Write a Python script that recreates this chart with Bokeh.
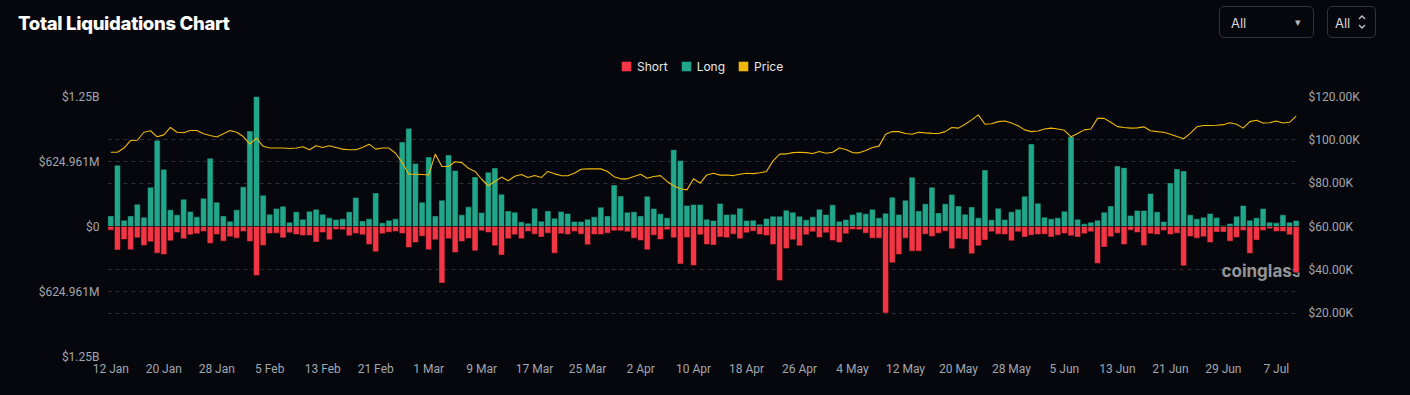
import pandas as pd
from bokeh.plotting import figure
from bokeh.layouts import column
from bokeh.models import (Range1d, LinearAxis, FixedTicker, CustomJSTickFormatter, Grid,
                          Legend, LegendItem, Label, Div, GlobalInlineStyleSheet)
from bokeh.embed import file_html
from bokeh.resources import INLINE

start_date = "2025-01-12"
chart_title = "Total Liquidations Chart"

long_liq = [102, 589, 61, 102, 214, 90, 378, 829, 550, 160, 112, 262, 144, 93, 272, 656, 234, 102, 51, 160,
            381, 918, 1249.9, 301, 118, 173, 195, 42, 141, 70, 147, 166, 118, 83, 67, 74, 141, 278, 54, 74,
            323, 35, 60, 74, 813, 944, 605, 234, 669, 102, 253, 688, 538, 112, 189, 477, 134, 522, 563, 310,
            150, 138, 45, 32, 176, 51, 150, 80, 144, 125, 48, 48, 70, 93, 186, 102, 400, 294, 138, 141,
            102, 291, 173, 122, 83, 739, 634, 202, 211, 211, 70, 58, 221, 115, 118, 176, 58, 61, 22, 77,
            99, 99, 157, 138, 99, 64, 93, 166, 115, 208, 51, 67, 115, 138, 122, 166, 83, 128, 282, 115,
            253, 474, 150, 218, 378, 131, 218, 307, 198, 118, 188, 83, 544, 64, 176, 67, 141, 166, 291, 794,
            224, 90, 74, 83, 147, 864, 70, 26, 42, 61, 138, 198, 582, 566, 106, 154, 154, 317, 141, 48,
            419, 554, 534, 112, 74, 90, 125, 86, 10, 29, 99, 202, 61, 83, 173, 42, 35, 112, 42, 58]

short_liq = [35, 227, 125, 224, 109, 182, 147, 256, 269, 138, 58, 118, 80, 70, 48, 163, 77, 141, 99, 112,
             48, 144, 470, 182, 67, 64, 109, 61, 77, 86, 86, 150, 58, 128, 29, 32, 90, 67, 80, 173,
             243, 70, 55, 48, 67, 202, 154, 93, 224, 128, 544, 118, 250, 144, 115, 234, 42, 58, 186, 275,
             118, 80, 118, 48, 74, 102, 64, 256, 70, 77, 48, 74, 176, 77, 77, 64, 42, 42, 51, 112,
             134, 224, 83, 125, 32, 109, 360, 106, 374, 80, 173, 179, 102, 109, 74, 118, 61, 45, 77, 86,
             173, 518, 211, 128, 186, 80, 51, 106, 61, 134, 154, 70, 29, 32, 64, 112, 112, 832, 349, 269,
             112, 237, 237, 74, 96, 64, 45, 214, 118, 125, 262, 186, 131, 51, 74, 77, 138, 51, 102, 83,
             77, 74, 102, 83, 67, 90, 102, 70, 51, 355, 198, 99, 64, 173, 35, 58, 182, 70, 77, 38,
             77, 64, 378, 96, 112, 99, 154, 54, 54, 141, 106, 38, 259, 131, 38, 22, 48, 48, 80, 442]

price_k = [94.3, 94.3, 96.2, 99.7, 99.8, 103.5, 104.2, 101.4, 102.3, 105.7, 103.5, 103.3, 104.3, 104.3, 102.8,
           102.0, 101.3, 102.8, 104.3, 103.5, 101.5, 98.0, 100.8, 97.0, 96.2, 96.2, 96.2, 96.0, 96.2, 96.8,
           95.4, 97.3, 96.5, 97.3, 96.5, 95.7, 95.4, 95.4, 96.5, 98.0, 95.7, 96.2, 96.2, 93.8, 89.5,
           84.1, 84.1, 84.0, 83.8, 93.4, 87.7, 87.7, 89.9, 89.5, 86.9, 85.4, 81.8, 78.8, 80.8, 82.8,
           81.1, 83.2, 84.0, 82.6, 83.5, 82.6, 85.4, 84.3, 83.5, 83.4, 84.6, 86.4, 86.6, 86.6, 86.6,
           85.4, 83.0, 82.0, 82.0, 83.1, 84.1, 82.3, 83.1, 83.5, 80.8, 78.8, 77.4, 76.9, 82.0, 80.0,
           83.8, 84.6, 83.7, 83.8, 83.5, 84.1, 84.6, 84.4, 84.8, 85.4, 90.3, 93.4, 93.5, 94.1, 94.3,
           94.1, 93.7, 94.6, 93.8, 94.3, 96.2, 95.5, 94.1, 94.0, 95.1, 96.5, 97.1, 102.6, 103.8, 103.8,
           102.9, 102.6, 103.5, 103.2, 103.0, 102.9, 103.8, 105.7, 105.4, 107.2, 109.2, 111.5, 107.2, 107.4, 108.4,
           108.7, 107.8, 106.5, 104.6, 103.8, 104.1, 105.0, 105.4, 105.0, 104.4, 101.4, 102.9, 104.6, 105.0, 109.9,
           109.9, 108.1, 106.1, 105.7, 105.4, 105.5, 106.0, 104.2, 103.8, 103.5, 102.6, 101.5, 100.5, 103.0, 106.0,
           106.6, 106.6, 106.7, 107.0, 107.9, 107.2, 105.4, 108.4, 109.0, 107.8, 107.9, 108.7, 107.8, 108.1, 110.9]

liq_ticks = [-1249.922, -624.961, 0, 624.961, 1249.922]
price_ticks = [20, 40, 60, 80, 100, 120]
price_grid = [0, 20, 40, 60, 80, 100, 120]
series_names = ["Short", "Long", "Price"]
selector_labels = ["All", "All"]

n = len(long_liq)
dates = pd.date_range(start_date, periods=n, freq="D")
idx = list(range(n))
neg_short = [-v for v in short_liq]
tick_idx = list(range(0, n, 8))
tick_labels = {i: dates[i].strftime("%-d %b") for i in tick_idx}

BG = "#05070c"
TEAL = "#21a68b"
RED = "#f23645"
GOLD = "#f0b90b"
GRID = "#2c2f36"
LBL = "#a3a6ad"
W = 1410
H_TOP = 50
H_LEG = 30
H_MAIN = 395 - H_TOP - H_LEG

# ---------------- title bar with the two selectors (HTML) ----------------
chev = ('<svg width="10" height="18" viewBox="0 0 10 18" style="position:absolute;left:1357px;top:13px;">'
        '<polyline points="2,6 5,3 8,6" fill="none" stroke="#c8c8c8" stroke-width="1.3"/>'
        '<polyline points="2,12 5,15 8,12" fill="none" stroke="#c8c8c8" stroke-width="1.3"/></svg>')
header_html = f"""
<div style="position:relative;width:{W}px;height:{H_TOP}px;background:{BG};font-family:Inter,'Noto Sans',sans-serif;">
  <div style="position:absolute;left:18px;top:12px;font-size:18.5px;font-weight:800;line-height:22px;color:#ffffff;letter-spacing:-0.3px;">{chart_title}</div>
  <div style="position:absolute;left:1219px;top:6px;width:95px;height:32px;border:1px solid #30333a;border-radius:5px;"></div>
  <div style="position:absolute;left:1231px;top:15px;font-size:13px;line-height:16px;color:#d8d8d8;">{selector_labels[0]}</div>
  <div style="position:absolute;left:1295px;top:14px;font-size:11px;line-height:16px;color:#bbbbbb;">&#9662;</div>
  <div style="position:absolute;left:1327px;top:6px;width:49px;height:32px;border:1px solid #30333a;border-radius:5px;"></div>
  <div style="position:absolute;left:1335px;top:15px;font-size:13px;line-height:16px;color:#d8d8d8;">{selector_labels[1]}</div>
  {chev}
</div>
"""
top_bar = Div(text=header_html, width=W, height=H_TOP, margin=0, styles={"background-color": BG})
top_bar.stylesheets = [GlobalInlineStyleSheet(css="html, body { background: #05070c; margin: 0; }")]

# ---------------- legend strip ----------------
leg = figure(width=W, height=H_LEG, output_backend="svg", toolbar_location=None,
             x_range=Range1d(0, 1), y_range=Range1d(0, 1), x_axis_type=None, y_axis_type=None,
             min_border_top=0, min_border_bottom=0, min_border_left=107, min_border_right=111,
             background_fill_color=BG, border_fill_color=BG, outline_line_color=None)
swatches = [leg.vbar(x=[0.5], top=[0], bottom=[0], width=0.0, fill_color=c, line_color=None)
            for c in (RED, TEAL, GOLD)]
legend = Legend(items=[LegendItem(label=s, renderers=[r]) for s, r in zip(series_names, swatches)],
                location=(513, 6.5), orientation="horizontal",
                glyph_width=12, glyph_height=12, label_height=12, label_standoff=5, spacing=12,
                padding=0, margin=0, background_fill_alpha=0, border_line_alpha=0,
                label_text_color="#e8e8e8", label_text_font="Inter", label_text_font_size="12px")
leg.add_layout(legend)

# ---------------- main chart ----------------
p = figure(width=W, height=H_MAIN, output_backend="svg", toolbar_location=None,
           x_range=Range1d(-0.5, n - 0.5), y_range=Range1d(-1249.922, 1249.922),
           background_fill_color=BG, border_fill_color=BG, outline_line_color=None,
           min_border_left=107, min_border_right=111, min_border_top=16, min_border_bottom=39)
p.extra_y_ranges = {"price": Range1d(0, 120)}

p.xgrid.visible = False
p.ygrid.ticker = FixedTicker(ticks=liq_ticks)
p.ygrid.grid_line_color = GRID
p.ygrid.grid_line_dash = "4 4"
p.add_layout(Grid(dimension=1, ticker=FixedTicker(ticks=price_grid), y_range_name="price",
                  grid_line_color=GRID, grid_line_dash="4 4"))


def style_axis(ax, standoff):
    ax.axis_line_color = None
    ax.major_tick_line_color = None
    ax.minor_tick_line_color = None
    ax.major_tick_out = 0
    ax.major_tick_in = 0
    ax.minor_tick_out = 0
    ax.major_label_text_color = LBL
    ax.major_label_text_font = "Roboto"
    ax.major_label_text_font_size = "12px"
    ax.major_label_standoff = standoff


p.yaxis.ticker = FixedTicker(ticks=liq_ticks)
p.yaxis.formatter = CustomJSTickFormatter(code="""
const v = Math.abs(tick);
if (v < 1e-6) return '$0';
if (v >= 1000) return '$' + (v/1000).toFixed(2) + 'B';
return '$' + v.toFixed(3) + 'M';
""")
style_axis(p.yaxis[0], 8)

ra = LinearAxis(y_range_name="price", ticker=FixedTicker(ticks=price_ticks),
                formatter=CustomJSTickFormatter(code="return '$' + tick.toFixed(2) + 'K';"))
style_axis(ra, 9)
p.add_layout(ra, "right")

p.xaxis.ticker = FixedTicker(ticks=tick_idx)
p.xaxis.major_label_overrides = tick_labels
style_axis(p.xaxis[0], 5)

# watermark (behind the bars)
p.add_layout(Label(x=1114, y=86, x_units="screen", y_units="screen", text="coinglass",
                   text_font="Inter", text_font_style="bold", text_font_size="17px",
                   text_color="#a8a8a8", text_alpha=0.9, text_baseline="middle", level="underlay"))

p.vbar(x=idx, top=long_liq, bottom=0, width=0.9, fill_color=TEAL,
       line_color="#000000", line_alpha=0.45, line_width=1)
p.vbar(x=idx, top=0, bottom=neg_short, width=0.9, fill_color=RED,
       line_color="#000000", line_alpha=0.45, line_width=1)
p.line(x=idx, y=price_k, y_range_name="price", line_color=GOLD, line_width=1.1)

page = column(top_bar, leg, p, spacing=0)
open("out.html", "w").write(file_html(page, INLINE))
